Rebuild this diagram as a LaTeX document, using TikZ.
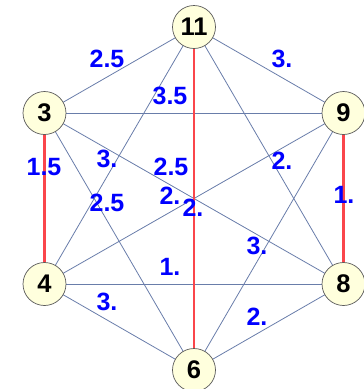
\documentclass[tikz,border=0pt]{standalone}
\usepackage{fontspec}
\setmainfont{Liberation Sans}
\definecolor{vfill}{RGB}{255,255,221}
\definecolor{ecol}{RGB}{105,125,170}
\definecolor{rcol}{RGB}{250,70,75}
\begin{document}
\begin{tikzpicture}[x=1pt,y=-1pt,
  vert/.style={circle,draw=black!65,line width=0.7pt,fill=vfill,minimum size=43pt,inner sep=0pt,font=\fontsize{25.5}{26}\selectfont\bfseries},
  edge/.style={draw=ecol,line width=0.8pt},
  redge/.style={draw=rcol,line width=2.4pt},
  wlab/.style={text=blue,font=\fontsize{25}{26}\selectfont\bfseries,inner sep=0pt}]
\useasboundingbox (0,0) rectangle (364,389);
\clip (0,0) rectangle (364,389);
% vertex centres
\coordinate (c11) at (194,27);
\coordinate (c3) at (44.5,113);
\coordinate (c9) at (343.5,113);
\coordinate (c4) at (44.5,284);
\coordinate (c8) at (343.5,284);
\coordinate (c6) at (194,370);
% edges
\draw[edge] (c11) -- (c3);
\draw[edge] (c11) -- (c9);
\draw[edge] (c11) -- (c4);
\draw[edge] (c11) -- (c8);
\draw[edge] (c3) -- (c9);
\draw[edge] (c3) -- (c8);
\draw[edge] (c3) -- (c6);
\draw[edge] (c9) -- (c4);
\draw[edge] (c9) -- (c6);
\draw[edge] (c4) -- (c8);
\draw[edge] (c4) -- (c6);
\draw[edge] (c8) -- (c6);
\draw[redge] (c11) -- (c6);
\draw[redge] (c3) -- (c4);
\draw[redge] (c9) -- (c8);
% nodes
\node[vert] (n11) at (c11) {11};
\node[vert] (n3) at (c3) {3};
\node[vert] (n9) at (c9) {9};
\node[vert] (n4) at (c4) {4};
\node[vert] (n8) at (c8) {8};
\node[vert] (n6) at (c6) {6};
% weights
\node[wlab] (w1) at (107,59) {2.5};
\node[wlab] (w2) at (282,59) {3.};
\node[wlab] (w3) at (170,96) {3.5};
\node[wlab] (w4) at (44,167) {1.5};
\node[wlab] (w5) at (107,159) {3.};
\node[wlab] (w6) at (171,167) {2.5};
\node[wlab] (w7) at (282,161) {2.};
\node[wlab] (w8) at (170,196) {2.};
\node[wlab] (w9) at (344,195) {1.};
\node[wlab] (w10) at (107,203) {2.5};
\node[wlab] (w11) at (193,208) {2.};
\node[wlab] (w12) at (257,246) {3.};
\node[wlab] (w13) at (170,267) {1.};
\node[wlab] (w14) at (107,302) {3.};
\node[wlab] (w15) at (257,317) {2.};
\end{tikzpicture}
\end{document}
